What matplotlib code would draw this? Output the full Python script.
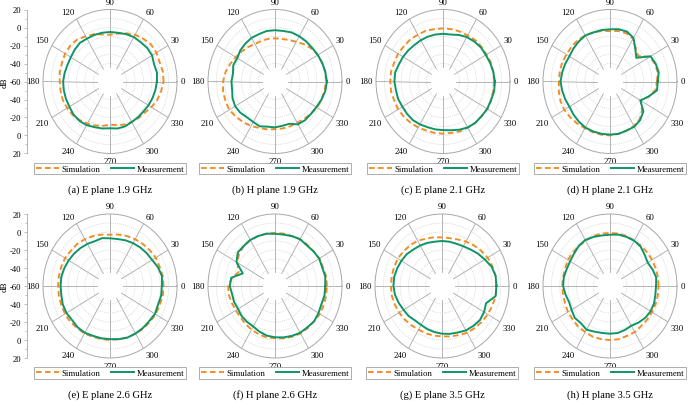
import numpy as np
import matplotlib.pyplot as plt
from matplotlib.lines import Line2D

plt.rcParams['font.family'] = ['Liberation Serif', 'DejaVu Serif']

# ---------------- data (dB, angles 0..350 step 10 deg) ----------------
angles_deg = list(range(0, 360, 10))
angle_labels = [0, 30, 60, 90, 120, 150, 180, 210, 240, 270, 300, 330]
db_ticks = [20, 0, -20, -40, -60, -40, -20, 0, 20]

captions = ["(a) E plane 1.9 GHz", "(b) H plane 1.9 GHz", "(c) E plane 2.1 GHz", "(d) H plane 2.1 GHz",
            "(e) E plane 2.6 GHz", "(f) H plane 2.6 GHz", "(g) E plane 3.5 GHz", "(h) H plane 3.5 GHz"]

sim_a = [4, 4, 3, 4, 4, 2, 0, -3, -6, -8, -7, -4, -2, 1, 2, 2, 1, 1, 0, 0,
         0, -1, -2, -4, -6, -8, -10, -12, -11, -9, -8, -7, -6, -3, 0, 2]
meas_a = [-4, -3, -4, -2, -2, -3, -3, -4, -5, -5, -5, -5, -5, -4, -5, -6, -6, -5, -4, -4,
          -4, -4, -3, -3, -4, -6, -7, -8, -7, -7, -8, -8, -8, -7, -6, -5]

sim_b = [1, 1, 0, -1, -3, -6, -9, -11, -12, -12, -12, -12, -12, -10, -8, -6, -3, 0, 2, 3,
         3, 3, 1, -1, -3, -5, -6, -7, -7, -7, -7, -6, -4, -2, -1, 0]
meas_b = [2, 1, 0, -1, -2, -2, -2, -2, -3, -3, -3, -4, -4, -5, -6, -8, -7, -9, -8, -8,
          -6, -5, -6, -8, -8, -7, -9, -9, -10, -10, -5, -4, -4, -3, -1, 1]

sim_c = [1, 1, 1, 0, 0, 0, -1, -1, -1, -1, -1, 0, 0, 1, 1, 2, 2, 3, 3, 3,
         2, 2, 1, 0, -1, -2, -2, -2, -2, -1, -1, 0, 0, 1, 1, 1]
meas_c = [2, 1, 0, -1, -1, -2, -3, -5, -7, -7, -7, -7, -7, -7, -6, -5, -4, -2, -2, -3,
          -3, -4, -4, -4, -5, -6, -6, -6, -5, -3, -1, 0, 0, 1, 1, 2]

sim_d = [-4, -2, -3, -5, -16, -12, -5, -3, -3, -4, -3, -2, -1, 0, 0, 0, 1, 1, 1, 2,
         3, 3, 2, 1, 0, 0, 0, 0, -1, -2, -3, -5, -10, -18, -11, -5]
meas_d = [-3, -1, -2, -4, -19, -13, -4, -1, -1, -2, -2, -2, -1, -2, -3, -4, -3, -2, -1, -2,
          -3, -4, -3, -2, -1, -1, -1, -1, -1, -2, -2, -4, -8, -18, -11, -3]

sim_e = [4, 4, 3, 3, 2, 1, 0, -1, -2, -3, -2, -1, 0, 1, 1, 2, 2, 2, 2, 2,
         2, 2, 2, 1, 1, 0, 0, 0, 0, 1, 1, 2, 2, 3, 3, 4]
meas_e = [2, 3, 1, -2, -3, -4, -5, -6, -7, -7, -6, -7, -6, -5, -4, -3, -2, -1, -1, -1,
          0, 0, -1, 0, 0, -1, -1, -1, 0, 1, 1, 1, 1, 2, 1, 2]

sim_f = [2, 2, 1, 1, 0, 0, 0, -1, -1, -1, -1, -1, -1, -2, -4, -8, -14, -8, -4, -4,
         -5, -6, -6, -5, -4, -3, -2, -2, -1, 0, 1, 1, 1, 2, 2, 2]
meas_f = [0, 1, 0, 1, 0, -1, 0, -1, -2, -2, -1, -1, -1, -2, -2, -7, -19, -7, -6, -8,
          -8, -9, -8, -8, -8, -6, -4, -3, -2, -1, 0, 0, 1, 0, -1, 0]

sim_g = [5, 5, 4, 3, 1, -1, -3, -5, -6, -6, -5, -4, -2, -1, 0, 1, 1, 1, 1, 1,
         0, -1, -2, -3, -4, -4, -4, -4, -3, -2, 0, 1, 2, 3, 4, 5]
meas_g = [5, 5, 3, -1, -4, -7, -9, -10, -10, -10, -10, -9, -8, -7, -5, -4, -3, -2, -2, -3,
          -5, -7, -8, -10, -10, -9, -8, -7, -6, -5, -3, -2, -1, -2, -4, 5]

sim_h = [-2, -2, -2, -2, -2, -2, -2, -1, -1, -1, -1, -1, -2, -2, -2, -2, -3, -3, -3, -3,
         -3, -2, -2, -1, -1, 0, 0, 0, 0, -1, -1, -2, -2, -2, -2, -2]
meas_h = [-5, -4, -6, -8, -6, -3, -2, -2, -2, -3, -3, -2, -1, -2, -4, -5, -5, -4, -4, -6,
          -8, -7, -5, -6, -4, -6, -7, -7, -7, -8, -9, -7, -5, -4, -4, -5]

sims = [sim_a, sim_b, sim_c, sim_d, sim_e, sim_f, sim_g, sim_h]
meas = [meas_a, meas_b, meas_c, meas_d, meas_e, meas_f, meas_g, meas_h]

# ---------------- layout ----------------
W, H = 689, 402
centers = [(110, 82.5), (275, 82.5), (443, 82.5), (610, 82.5),
           (110, 287), (275, 287), (442, 287), (610, 287)]
RX, RY = 67, 72
ORANGE = '#F38B20'
GREEN = '#0D9568'
GRID = '#a8a8a8'
DASH = (0, (3, 1.8))

fig = plt.figure(figsize=(W / 100, H / 100), dpi=100)

for i, (cx, cy) in enumerate(centers):
    ax = fig.add_axes([(cx - RX) / W, 1 - (cy + RY) / H, 2 * RX / W, 2 * RY / H], projection='polar')
    ax.set_aspect('auto')
    ax.set_ylim(-60, 20)
    ax.set_yticks([-40, -30, -20, -10, 0, 10])
    ax.set_yticklabels([])
    ax.yaxis.grid(True, color='#d0d0d0', lw=0.5, ls=(0, (1.5, 1.5)))
    ax.set_xticks(np.deg2rad(angle_labels))
    ax.set_xticklabels([])
    ax.xaxis.grid(False)
    ax.tick_params(length=0)
    ax.spines['polar'].set_color(GRID)
    ax.spines['polar'].set_linewidth(0.7)
    for d in angle_labels:
        th = np.deg2rad(d)
        ax.plot([th, th], [-44, 20], color=GRID, lw=0.6, zorder=1)
        ca, sa = np.cos(th), np.sin(th)
        ha = 'center' if abs(ca) < 0.2 else ('left' if ca > 0 else 'right')
        va = 'center' if abs(sa) < 0.2 else ('bottom' if sa > 0 else 'top')
        ax.text(th, 24, str(d), ha=ha, va=va, fontsize=6.3, clip_on=False)
    th_all = np.deg2rad(angles_deg + [angles_deg[0]])
    s = sims[i] + [sims[i][0]]
    m = meas[i] + [meas[i][0]]
    ax.plot(th_all, s, color=ORANGE, lw=1.35, ls=DASH, zorder=3)
    ax.plot(th_all, m, color=GREEN, lw=1.4, zorder=4)

    # legend
    ly = cy + 87
    handles = [Line2D([], [], color=ORANGE, lw=1.35, ls=DASH),
               Line2D([], [], color=GREEN, lw=1.4)]
    leg = fig.legend(handles, ['Simulation', 'Measurement'], loc='center',
                     bbox_to_anchor=(cx / W, 1 - ly / H), ncol=2, fontsize=6.3,
                     frameon=True, fancybox=False, edgecolor='#a0a0a0', framealpha=1,
                     handlelength=2.6, handletextpad=0.3, columnspacing=1.2,
                     borderpad=0.2, borderaxespad=0)
    leg.get_frame().set_linewidth(0.6)
    fig.text(cx / W, 1 - (cy + 108) / H, captions[i], ha='center', va='center', fontsize=7.6)

    # dB axis at left of first column
    if i in (0, 4):
        axd = fig.add_axes([27 / W, 1 - (cy + RY) / H, 0.0001, 2 * RY / H])
        axd.set_ylim(-80, 80)
        for sp in ['top', 'right', 'bottom']:
            axd.spines[sp].set_visible(False)
        axd.spines['left'].set_color(GRID)
        axd.spines['left'].set_linewidth(0.6)
        axd.set_xticks([])
        yt = np.arange(-80, 81, 20)
        axd.set_yticks(yt)
        axd.set_yticklabels([str(v) for v in db_ticks], fontsize=6.2)
        axd.set_yticks(np.arange(-70, 80, 20), minor=True)
        axd.tick_params(axis='y', which='major', length=2.5, width=0.5, color=GRID, pad=1.5)
        axd.tick_params(axis='y', which='minor', length=1.5, width=0.5, color=GRID)
        axd.set_ylabel('dB', fontsize=6.5, labelpad=1)

fig.savefig('out.png', dpi=100)
